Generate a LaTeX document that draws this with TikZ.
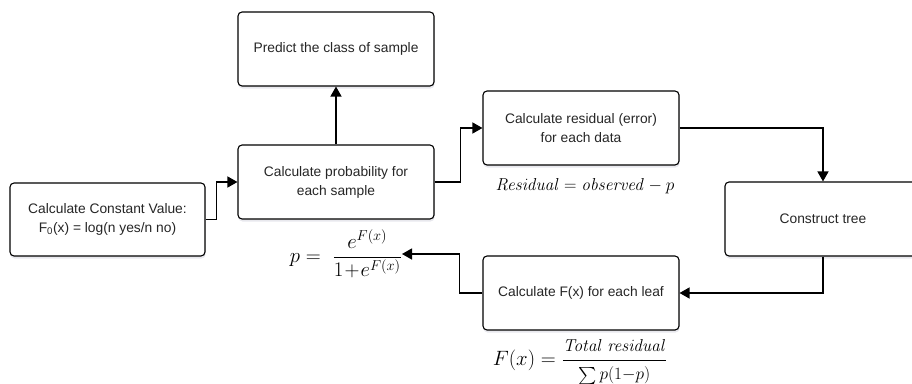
\documentclass[tikz,border=0pt]{standalone}
\usepackage{amsmath}
\usepackage[no-math]{fontspec}
\setmainfont{Liberation Sans}
\usetikzlibrary{arrows.meta,shadows}
\begin{document}
\begin{tikzpicture}[x=1pt,y=-1pt,
  box/.style={draw=black, line width=1.1pt, rounded corners=4pt, fill=white,
    minimum width=196pt, minimum height=74pt, align=center, text=black!85,
    font=\fontsize{13.8}{19}\selectfont,
    drop shadow={shadow xshift=0.5pt, shadow yshift=-2.5pt, fill=blue!12!gray!20, opacity=0.8}},
  conn/.style={line width=1.4pt, -{Triangle[length=10pt,width=11pt]}},
  formula/.style={inner sep=0pt}]
\useasboundingbox (0,0) rectangle (912,383);
\clip (0,0) rectangle (912,383);
\node[box, minimum width=195pt, minimum height=73pt] (b1) at (107.5,219.5) {Calculate Constant Value:\\F\textsubscript{0}(x) = log(n yes/n no)};
\node[box] (b2) at (336,182) {Calculate probability for\\each sample};
\node[box] (pred) at (336,49) {Predict the class of sample};
\node[box] (b3) at (581,128) {Calculate residual (error)\\for each data};
\node[box] (b4) at (823,219) {Construct tree};
\node[box] (b5) at (581,293) {Calculate F(x) for each leaf};
\node[formula, anchor=east] (pf) at (402,254) {\fontsize{22}{22}\selectfont $p =\ \dfrac{e^{F(x)}}{1\!+\!e^{F(x)}}$};
\node[formula] (rf) at (585,186) {\fontsize{17.5}{20}\selectfont $\mathit{Residual} = \mathit{observed} - p$};
\node[formula] (ff) at (580,362) {\fontsize{20}{20}\selectfont $F(x) = \dfrac{\mbox{\fontsize{17}{17}\selectfont$\mathit{Total\ residual}$}}{\mbox{\fontsize{17}{17}\selectfont$\sum p(1{-}p)$}}$};
\draw[conn] (b1.east) -- ++(11,0) |- (b2.west);
\draw[conn] (b2.north) -- (pred.south);
\draw[conn] (b2.east) -- ++(26,0) |- (b3.west);
\draw[conn] (b3.east) -| (b4.north);
\draw[conn] (b4.south) |- (b5.east);
\draw[conn] (b5.west) -- ++(-23,0) |- (pf.east);
\end{tikzpicture}
\end{document}
